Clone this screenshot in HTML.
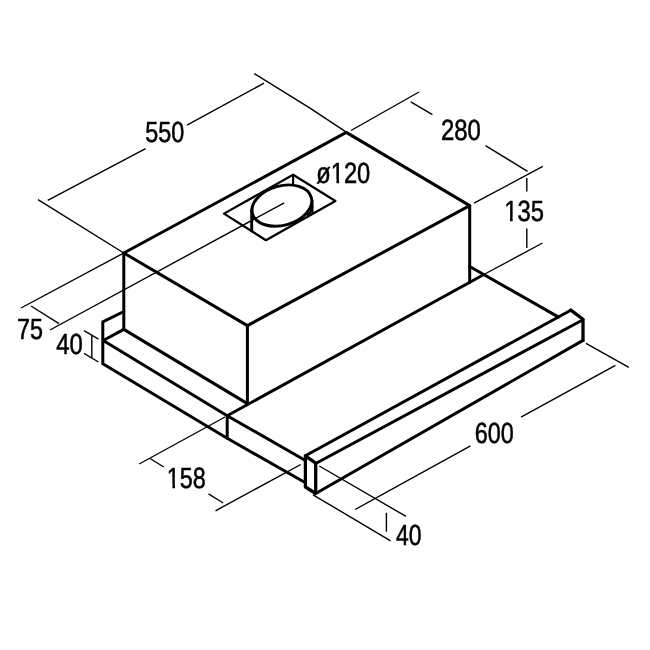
<!DOCTYPE html>
<html>
<head>
<meta charset="utf-8">
<title>Dimensions</title>
<style>
html,body{margin:0;padding:0;background:#fff;}
body{width:650px;height:650px;overflow:hidden;}
svg{display:block;will-change:transform;filter:grayscale(1);}
text{font-family:"Liberation Sans",sans-serif;fill:#000;text-rendering:geometricPrecision;}
</style>
</head>
<body>
<svg width="650" height="650" viewBox="0 0 650 650">
<rect x="0" y="0" width="650" height="650" fill="#ffffff"/>

<!-- thin dimension / extension lines -->
<g fill="none" stroke="#000" stroke-width="1.4" stroke-linecap="butt">
  <!-- top-left extension from apex -->
  <polyline points="346.3,132.2 310,108.1 254.3,73.6"/>
  <!-- 550 -->
  <line x1="38" y1="199.6" x2="123.8" y2="253"/>
  <line x1="47.7" y1="200.3" x2="145.6" y2="148.6"/>
  <line x1="187" y1="125.2" x2="264" y2="83.2"/>
  <!-- 280 -->
  <line x1="351" y1="130.5" x2="419" y2="92"/>
  <line x1="410.8" y1="101.8" x2="432.4" y2="114.6"/>
  <line x1="485.5" y1="145.6" x2="527.5" y2="171.3"/>
  <!-- 135 -->
  <line x1="474" y1="203.2" x2="542.8" y2="166.4"/>
  <line x1="483" y1="275" x2="542.5" y2="243"/>
  <line x1="526.8" y1="178" x2="526.8" y2="191.5"/>
  <line x1="526.8" y1="228.5" x2="526.8" y2="248"/>
  <!-- 75 -->
  <line x1="123.8" y1="253" x2="21" y2="308"/>
  <line x1="284.2" y1="202.8" x2="50" y2="330"/>
  <line x1="31" y1="306" x2="59" y2="323.6"/>
  <!-- 40 left -->
  <line x1="91.8" y1="335.5" x2="91.8" y2="358.3"/>
  <line x1="84" y1="330.6" x2="98.5" y2="339.2"/>
  <line x1="84" y1="353.4" x2="98.5" y2="362"/>
  <!-- 158 -->
  <line x1="225" y1="417" x2="139.2" y2="464"/>
  <line x1="300.8" y1="464.5" x2="215.5" y2="510.8"/>
  <line x1="150" y1="458.5" x2="163.8" y2="467"/>
  <line x1="208.5" y1="493.8" x2="223.2" y2="503"/>
  <!-- 40 handle -->
  <line x1="319.3" y1="466" x2="406" y2="516.4"/>
  <line x1="313" y1="494.8" x2="390.6" y2="540.8"/>
  <line x1="386.4" y1="512.8" x2="386.4" y2="531.7"/>
  <!-- 600 -->
  <line x1="355" y1="509.5" x2="470.5" y2="445.8"/>
  <line x1="521" y1="417.2" x2="615.4" y2="365.4"/>
  <line x1="586" y1="343.4" x2="628.8" y2="367.3"/>
</g>

<!-- thick object lines -->
<g fill="none" stroke="#000" stroke-width="3" stroke-linecap="round" stroke-linejoin="round">
  <!-- box top face -->
  <path d="M346.3 132.4 L123.8 253 L247.4 325.6 L469.7 205.6 Z"/>
  <!-- box verticals -->
  <line x1="123.8" y1="253" x2="123.8" y2="329.4"/>
  <line x1="247.4" y1="325.6" x2="247.4" y2="403.6"/>
  <line x1="469.7" y1="205.8" x2="469.7" y2="282.3"/>
  <!-- box bottom -->
  <line x1="123.8" y1="329.4" x2="247.4" y2="403.6"/>
  <line x1="227.2" y1="415.7" x2="483" y2="275"/>
  <!-- base back-left flange -->
  <path d="M123.8 311.5 L102.8 321.8 L102.8 363.8 L227.2 438.3 L227.2 415.7 L103.2 340.5 L123.8 329.4"/>
  <!-- drawer -->
  <line x1="227.2" y1="415.7" x2="305" y2="460.3"/>
  <line x1="227.2" y1="438.3" x2="305" y2="482.5"/>
  <!-- base top right edge -->
  <line x1="469.7" y1="266.5" x2="558.6" y2="317.1"/>
  <!-- handle -->
  <path d="M305.4 455.8 L315.7 463.2 L315.7 493.5 L305.4 487 Z" stroke-width="3.3"/>
  <line x1="305.4" y1="455.8" x2="570.7" y2="310.2"/>
  <line x1="315.7" y1="463.5" x2="583" y2="319.7"/>
  <line x1="315.7" y1="493.5" x2="583" y2="340.4"/>
  <path d="M570.8 310.1 L583 319.3 L583 340.4" stroke-width="3.3"/>
</g>

<!-- duct hole -->
<g fill="none" stroke="#000" stroke-width="2.2" stroke-linecap="round" stroke-linejoin="round">
  <path d="M224 213.6 L293.1 174.8 L335.4 201 L265.9 240.2 Z"/>
  <line x1="293.1" y1="174.8" x2="293.1" y2="185"/>
  <line x1="251.7" y1="210" x2="251.7" y2="231" stroke-width="2.9"/>
  <line x1="312.4" y1="200.5" x2="312.4" y2="212.3"/>
  <ellipse cx="281.85" cy="205.6" rx="30.5" ry="19.65" transform="rotate(-15.5 281.85 205.6)" stroke-width="2.9"/>
  <path d="M312.4 206 Q312.2 211.5 307.6 215.2"/>
</g>

<!-- labels -->
<g font-size="29.2" stroke="#000" stroke-width="0.55" stroke-linejoin="round">
  <text id="t550" x="145.2" y="141.9" textLength="39.0" lengthAdjust="spacingAndGlyphs">550</text>
  <text id="t280" x="440.9" y="140.1" textLength="39.9" lengthAdjust="spacingAndGlyphs">280</text>
  <text id="t120" x="316.3" y="182.9" textLength="54.0" lengthAdjust="spacingAndGlyphs">ø120</text>
  <text id="t135" x="504.3" y="220.7" textLength="39.7" lengthAdjust="spacingAndGlyphs">135</text>
  <text id="t75" x="17.1" y="338.7" textLength="26.0" lengthAdjust="spacingAndGlyphs">75</text>
  <text id="t40a" x="56.2" y="353.5" textLength="26.6" lengthAdjust="spacingAndGlyphs">40</text>
  <text id="t158" x="166.8" y="487.8" textLength="39.0" lengthAdjust="spacingAndGlyphs">158</text>
  <text id="t600" x="474.8" y="442.8" textLength="39.0" lengthAdjust="spacingAndGlyphs">600</text>
  <text id="t40b" x="396.0" y="544.7" textLength="25.5" lengthAdjust="spacingAndGlyphs">40</text>
</g>
<!-- trim the foot of each "1" so it reads as a plain flagged stem -->
<g fill="#fff" stroke="none">
  <rect x="331.28" y="179.32" width="5.15" height="5.08"/>
  <rect x="339.12" y="179.32" width="4.97" height="5.08"/>
  <rect x="504.81" y="217.12" width="5.17" height="5.08"/>
  <rect x="512.69" y="217.12" width="4.99" height="5.08"/>
  <rect x="167.28" y="484.22" width="5.10" height="5.08"/>
  <rect x="175.04" y="484.22" width="4.91" height="5.08"/>
</g>
</svg>
</body>
</html>
